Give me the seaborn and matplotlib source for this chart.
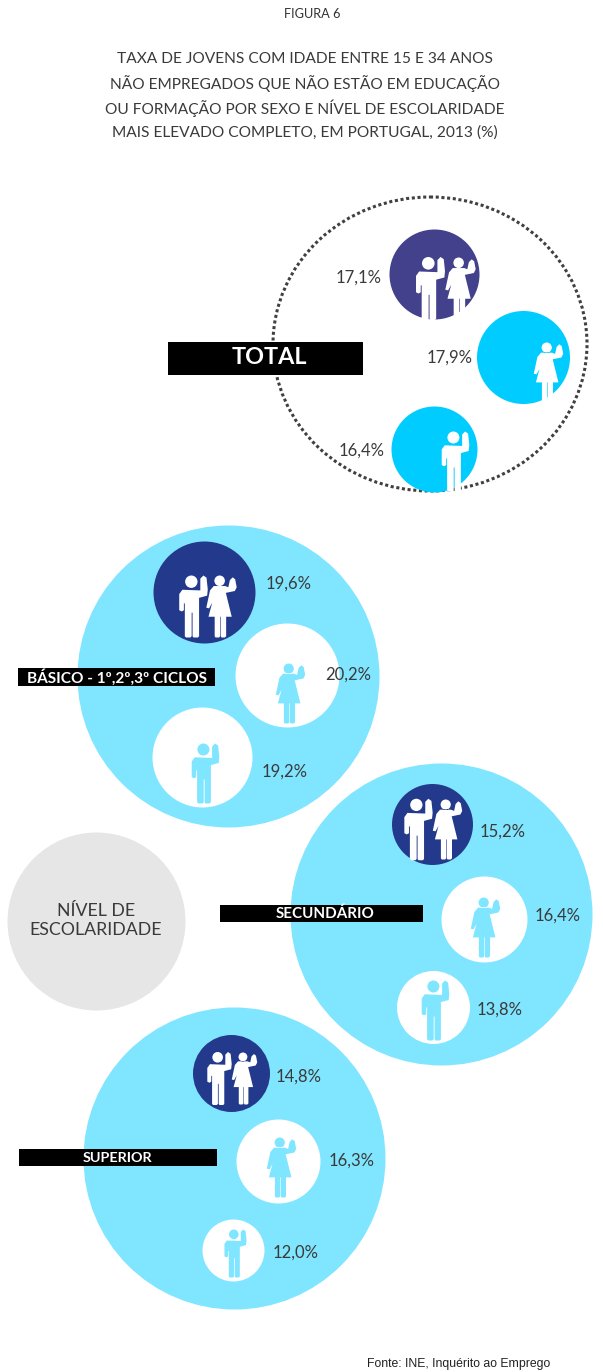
import numpy as np
import pandas as pd
import matplotlib
matplotlib.use("Agg")
import matplotlib.pyplot as plt
from matplotlib.path import Path
from matplotlib.patches import Ellipse, Rectangle
import seaborn as sns

# ---- data ----
levels = ["TOTAL", "BÁSICO - 1º,2º,3º CICLOS", "SECUNDÁRIO", "SUPERIOR"]
rate_both = [17.1, 19.6, 15.2, 14.8]
rate_women = [17.9, 20.2, 16.4, 16.3]
rate_men = [16.4, 19.2, 13.8, 12.0]
title_lines = ["TAXA DE JOVENS COM IDADE ENTRE 15 E 34 ANOS",
               "NÃO EMPREGADOS QUE NÃO ESTÃO EM EDUCAÇÃO",
               "OU FORMAÇÃO POR SEXO E NÍVEL DE ESCOLARIDADE",
               "MAIS ELEVADO COMPLETO, EM PORTUGAL, 2013 (%)"]

# ---- layout (pixels of the page) ----
big = [None, (228, 676, 151), (441, 914, 151), (234, 1158, 151)]
both_c = [(434, 274, 45), (204, 591.5, 51), (431.5, 824, 40.5), (231, 1072.5, 38.5)]
women_c = [(522.5, 356.5, 46.5), (287, 675, 52), (484, 918.5, 43), (278, 1160.5, 42)]
men_c = [(434, 449, 43), (202, 757, 50), (432.5, 1007, 36.5), (233, 1249.5, 31)]
both_m = [(429.5, 287.5, 63), (192.5, 606, 62), (417.5, 828.5, 61.5), (219, 1077.5, 53)]
both_w = [(459.5, 287.5, 62), (220.5, 606, 62), (447, 829, 60), (243.5, 1078, 52)]
women_i = [(548, 372, 60), (289.5, 693, 60), (484.5, 927, 60), (280.5, 1167, 60)]
men_i = [(455, 460.5, 60), (205, 773, 60), (435, 1010, 60), (235, 1253, 48)]
both_lab = [(359, 278), (289, 584), (503, 832), (299, 1077)]
women_lab = [(450, 358), (348, 675), (558, 916), (352, 1161)]
men_lab = [(362, 451), (285, 772), (500, 1010), (296, 1253)]
bars = [(168, 342, 195, 33, 269, 358, 16.8), (18, 668, 197, 18, 117, 677, 11.1),
        (220, 905, 203, 17, 325, 914, 10.9), (19, 1149, 198, 17, 117, 1158, 10.4)]

C_TOTAL_BOTH, C_TOTAL = "#43418c", "#00ccff"
C_LIGHT, C_DARK = "#80e5ff", "#233a8c"
C_TEXT = "#3a3a3a"


def body(pts):
    return Path(np.array(pts + [pts[0]], float), closed=True)


MAN = Path.make_compound_path(
    Path.circle((-0.07, 0.80), 0.20),
    body([(0.18, 0.52), (0.22, 0.52), (0.22, 0.90), (0.32, 1.0), (0.42, 0.93), (0.46, 0.55),
          (0.44, 0.35), (0.18, 0.28), (0.18, -0.96), (0.14, -1.0), (0.0, -1.0),
          (-0.03, -0.96), (-0.03, -0.20), (-0.06, -0.20), (-0.06, -0.96), (-0.10, -1.0),
          (-0.24, -1.0), (-0.28, -0.96), (-0.28, 0.10), (-0.31, 0.10), (-0.31, -0.12),
          (-0.38, -0.16), (-0.46, -0.12), (-0.46, 0.40), (-0.36, 0.54)]),
)
WOMAN = Path.make_compound_path(
    Path.circle((-0.06, 0.83), 0.17),
    body([(0.12, 0.66), (0.22, 0.62), (0.27, 0.85), (0.36, 0.94), (0.44, 0.88), (0.49, 0.62),
          (0.43, 0.50), (0.14, 0.44), (0.33, -0.33), (0.15, -0.33), (0.15, -0.96), (0.11, -1.0),
          (0.0, -1.0), (-0.02, -0.96), (-0.02, -0.33), (-0.04, -0.33), (-0.04, -0.96),
          (-0.08, -1.0), (-0.19, -1.0), (-0.22, -0.96), (-0.22, -0.33), (-0.42, -0.33),
          (-0.30, 0.12), (-0.40, -0.06), (-0.49, -0.04), (-0.37, 0.52), (-0.25, 0.66)]),
)

sns.set_theme(style="white")
plt.rcParams["font.family"] = ["Lato", "DejaVu Sans"]
fig = plt.figure(figsize=(6.03, 13.72), dpi=100)
ax = fig.add_axes([0, 0, 1, 1])
ax.set_xlim(0, 603)
ax.set_ylim(1372, 0)
ax.axis("off")
PT = 72 / 100


def dot(x, y, d, color, marker="o", z=2):
    sns.scatterplot(x=[x], y=[y], s=(d * PT) ** 2, color=color, marker=marker,
                    linewidth=0, ax=ax, legend=False, zorder=z)


def label(xy, v, size=12):
    ax.text(xy[0], xy[1], f"{v:.1f}".replace(".", ",") + "%", ha="center", va="center",
            fontsize=size, color=C_TEXT, zorder=6)


# dotted ring of the total group
ax.add_patch(Ellipse((430, 344), 314, 294, fill=False, ec="#404040", lw=2.2,
                     linestyle=(0, (1.0, 0.87)), zorder=1))
# grey legend disc
dot(96, 921, 178, "#e6e6e6")
ax.text(96, 920.5, "NÍVEL DE\nESCOLARIDADE", ha="center", va="center", fontsize=12.8,
        color=C_TEXT, linespacing=1.22, zorder=6)

for i in range(len(levels)):
    if big[i] is not None:
        x, y, r = big[i]
        dot(x, y, 2 * r, C_LIGHT, z=1)
    fill_both = C_TOTAL_BOTH if i == 0 else C_DARK
    fill_one = C_TOTAL if i == 0 else "white"
    ink = "white" if i == 0 else C_LIGHT
    dot(both_c[i][0], both_c[i][1], 2 * both_c[i][2], fill_both, z=3)
    dot(women_c[i][0], women_c[i][1], 2 * women_c[i][2], fill_one, z=3)
    dot(men_c[i][0], men_c[i][1], 2 * men_c[i][2], fill_one, z=3)
    dot(*both_m[i], "white", MAN, 4)
    dot(*both_w[i], "white", WOMAN, 4)
    dot(*women_i[i], ink, WOMAN, 4)
    dot(*men_i[i], ink, MAN, 4)
    label(both_lab[i], rate_both[i])
    label(women_lab[i], rate_women[i])
    label(men_lab[i], rate_men[i])
    bx, by, bw, bh, tx, ty, fs = bars[i]
    ax.add_patch(Rectangle((bx, by), bw, bh, fc="black", ec="none", zorder=5))
    ax.text(tx, ty, levels[i], ha="center", va="center", fontsize=fs,
            color="white", fontweight="bold", zorder=6)

ax.text(312, 14, "FIGURA 6", ha="center", va="center", fontsize=9.2, color="#333333")
for k, line in enumerate(title_lines):
    ax.text(305, 59 + k * 24.6, line, ha="center", va="center", fontsize=11.2, color=C_TEXT)
ax.text(459, 1364, "Fonte: INE, Inquérito ao Emprego", ha="center", va="center", fontsize=8.8,
        family="Liberation Sans", color="#222222")

fig.savefig("out.png", dpi=100, facecolor="white")
